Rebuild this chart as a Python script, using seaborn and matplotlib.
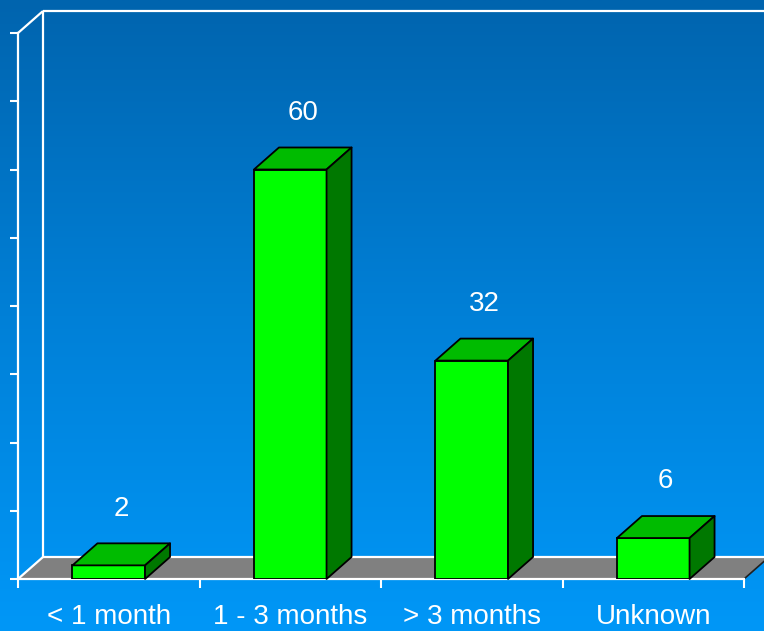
import numpy as np
import matplotlib
matplotlib.use("Agg")
import matplotlib.pyplot as plt
from matplotlib.patches import Polygon
from matplotlib.colors import LinearSegmentedColormap
import seaborn as sns

categories = ["< 1 month", "1 - 3 months", "> 3 months", "Unknown"]
values = [2, 60, 32, 6]
y_ticks = list(range(0, 90, 10))

plt.rcParams['font.family'] = ['Liberation Sans', 'DejaVu Sans']

W, H = 764, 631
fig = plt.figure(figsize=(W / 100, H / 100), dpi=100)

# background gradient
bg = fig.add_axes([0, 0, 1, 1], zorder=-10)
cmap = LinearSegmentedColormap.from_list("bgblue", ["#0064AE", "#0080D7", "#0097F7"])
grad = np.linspace(0, 1, 256).reshape(-1, 1)
bg.imshow(grad, aspect="auto", cmap=cmap, extent=[0, 1, 0, 1], origin="upper")
bg.set_axis_off()

ax = fig.add_axes([18 / W, 52 / H, 726 / W, 546 / H])
ax.patch.set_alpha(0)

sns.barplot(x=categories, y=values, color="#00FF00", saturation=1, width=0.4,
            edgecolor="black", linewidth=1.3, ax=ax, zorder=5)

ax.set_xlim(-0.5, len(categories) - 0.5)
ax.set_ylim(0, 80)
x0, x1 = ax.get_xlim()
y0, y1 = ax.get_ylim()

# depth offset (pixels) converted into data units
fig.canvas.draw()
inv = ax.transData.inverted()
p0 = ax.transData.transform((0, 0))
pd = inv.transform(p0 + np.array([25.0, 22.0]))
dx, dy = pd[0], pd[1]

white = dict(color="white", lw=1.6, clip_on=False, solid_capstyle="butt")

# floor
floor = Polygon([(x0, y0), (x1, y0), (x1 + dx, y0 + dy), (x0 + dx, y0 + dy)],
                closed=True, facecolor="#808080", edgecolor="none", clip_on=False, zorder=1)
ax.add_patch(floor)
ax.plot([x0 + dx, x1 + dx], [y0 + dy, y0 + dy], zorder=2, **white)
ax.plot([x0, x0 + dx], [y0, y0 + dy], zorder=2, **white)
ax.plot([x1, x1 + dx], [y0, y0 + dy], color="#202020", lw=1.2, clip_on=False, zorder=2)

# back wall / side wall outlines
ax.plot([x0 + dx, x0 + dx], [y0 + dy, y1 + dy], zorder=2, **white)
ax.plot([x0 + dx, x1 + dx], [y1 + dy, y1 + dy], zorder=2, **white)
ax.plot([x0, x0 + dx], [y1, y1 + dy], zorder=2, **white)

# 3D faces on bars
for bar, v in zip(ax.patches[:len(values)], values):
    bx, bw, bh = bar.get_x(), bar.get_width(), bar.get_height()
    top = Polygon([(bx, bh), (bx + bw, bh), (bx + bw + dx, bh + dy), (bx + dx, bh + dy)],
                  closed=True, facecolor="#00BB00", edgecolor="black", lw=1.3,
                  joinstyle="round", zorder=6, clip_on=False)
    side = Polygon([(bx + bw, 0), (bx + bw + dx, dy), (bx + bw + dx, bh + dy), (bx + bw, bh)],
                   closed=True, facecolor="#007800", edgecolor="black", lw=1.3,
                   joinstyle="round", zorder=6, clip_on=False)
    ax.add_patch(top)
    ax.add_patch(side)
    ax.annotate(f"{v}", xy=(bx + bw / 2 + dx / 2, bh + dy / 2), xytext=(0, 33),
                textcoords="offset points", ha="center", va="center",
                color="white", fontsize=20, zorder=7)

# spines
for s in ["top", "right"]:
    ax.spines[s].set_visible(False)
for s in ["left", "bottom"]:
    ax.spines[s].set_color("white")
    ax.spines[s].set_linewidth(1.6)
    ax.spines[s].set_zorder(3)

ax.set_yticks(y_ticks)
ax.set_yticklabels([])
ax.tick_params(axis="y", colors="white", direction="out", length=6, width=1.5)

ax.set_xticks(range(len(categories)))
ax.set_xticklabels(categories)
ax.set_xticks(np.arange(-0.5, len(categories), 1.0), minor=True)
ax.tick_params(axis="x", which="major", length=0, pad=18, labelsize=20, labelcolor="white")
ax.tick_params(axis="x", which="minor", length=6.5, width=1.5, color="white", direction="out")
ax.set_xlabel("")
ax.set_ylabel("")

fig.savefig("out.png", dpi=100)
